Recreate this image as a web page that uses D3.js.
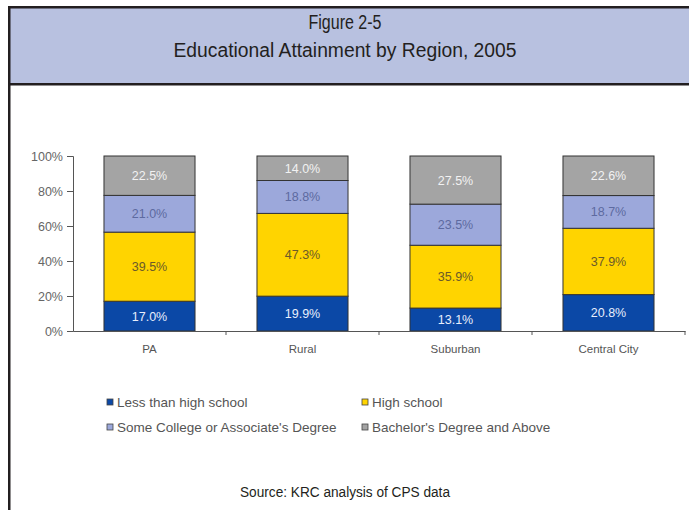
<!DOCTYPE html>
<html>
<head>
<meta charset="utf-8">
<script src="https://cdn.jsdelivr.net/npm/d3@7"></script>
<style>
  body { margin: 0; background: #fff; }
  svg { display: block; }
</style>
</head>
<body>
<div id="chart"></div>
<script>
// educational attainment by region, 2005 (percent)
var regions = ["PA", "Rural", "Suburban", "Central City"];
var seriesNames = ["Less than high school", "High school",
  "Some College or Associate's Degree", "Bachelor's Degree and Above"];
var lessThanHS = [17.0, 19.9, 13.1, 20.8];
var highSchool = [39.5, 47.3, 35.9, 37.9];
var someCollege = [21.0, 18.8, 23.5, 18.7];
var bachelors = [22.5, 14.0, 27.5, 22.6];
var yTicks = [0, 20, 40, 60, 80, 100];

var colors = ["#0b48a6", "#ffd400", "#9ca8db", "#a4a4a4"];
var labelColors = ["#e8eefc", "#6b5a2a", "#5d6aa0", "#f2f2f2"];

var fullWidth = 689, fullHeight = 510;

var svg = d3.select("#chart").append("svg")
  .attr("width", fullWidth)
  .attr("height", fullHeight);

// frame + header band
svg.append("rect").attr("x", 10).attr("y", 8).attr("width", fullWidth - 10).attr("height", 75)
  .attr("fill", "#b8c1e0");
svg.append("rect").attr("x", 8).attr("y", 6).attr("width", fullWidth - 8).attr("height", 2.5).attr("fill", "#231f20");
svg.append("rect").attr("x", 8).attr("y", 83).attr("width", fullWidth - 8).attr("height", 2.5).attr("fill", "#231f20");
svg.append("rect").attr("x", 8).attr("y", 6).attr("width", 2.5).attr("height", fullHeight - 6).attr("fill", "#231f20");

// condensed look: squeeze the glyphs to the widths seen in the picture
var titleFont = "'Liberation Sans', Arial, sans-serif";
function narrowText(txt, cx, cy, size, len) {
  svg.append("text").attr("x", cx - len / 2).attr("y", cy)
    .attr("textLength", len).attr("lengthAdjust", "spacingAndGlyphs")
    .style("font-family", titleFont).style("font-size", size + "px").attr("fill", "#231f20")
    .text(txt);
}
narrowText("Figure 2-5", 345, 29, 20, 73);
narrowText("Educational Attainment by Region, 2005", 345, 57, 20, 343);
narrowText("Source: KRC analysis of CPS data", 345, 497, 15.5, 210);

// scales
var x = d3.scaleBand().domain(regions).range([73, 685])
  .paddingInner(0.405).paddingOuter(0.2025);
var y = d3.scaleLinear().domain([0, 100]).range([331, 156]);

var rows = regions.map(function(r, i) {
  return { region: r, s0: lessThanHS[i], s1: highSchool[i], s2: someCollege[i], s3: bachelors[i] };
});
var stack = d3.stack().keys(["s0", "s1", "s2", "s3"]);
var layers = stack(rows);

var chartFont = "'Liberation Sans', Arial, sans-serif";

var g = svg.append("g");
layers.forEach(function(layer, k) {
  var grp = g.append("g");
  grp.selectAll("rect").data(layer).enter().append("rect")
    .attr("x", function(d) { return x(d.data.region); })
    .attr("y", function(d) { return y(d[1]); })
    .attr("width", x.bandwidth())
    .attr("height", function(d) { return y(d[0]) - y(d[1]); })
    .attr("fill", colors[k])
    .attr("stroke", "#333")
    .attr("stroke-width", 1);
  grp.selectAll("text").data(layer).enter().append("text")
    .attr("x", function(d) { return x(d.data.region) + x.bandwidth() / 2; })
    .attr("y", function(d) { return (y(d[0]) + y(d[1])) / 2 + 4.5; })
    .attr("text-anchor", "middle")
    .style("font-family", chartFont).style("font-size", "12.5px")
    .attr("fill", labelColors[k])
    .text(function(d) { return (d[1] - d[0]).toFixed(1) + "%"; });
});

// y axis
var yAxis = d3.axisLeft(y).tickValues(yTicks).tickSize(6).tickPadding(4)
  .tickFormat(function(d) { return d + "%"; });
var ya = svg.append("g").attr("transform", "translate(73,0)").call(yAxis);
ya.select(".domain").attr("stroke", "#555");
ya.selectAll(".tick line").attr("stroke", "#555");
ya.selectAll("text").style("font-family", chartFont).style("font-size", "12.5px").attr("fill", "#666");

// x axis with boundary ticks
var xAxis = d3.axisBottom(x).tickSize(0).tickPadding(14);
var xa = svg.append("g").attr("transform", "translate(0,331)").call(xAxis);
xa.select(".domain").attr("stroke", "#555");
xa.selectAll("text").style("font-family", chartFont).style("font-size", "11.5px").attr("fill", "#555");
var bounds = regions.map(function(r) { return x(r) - x.step() * x.paddingInner() / 2; }).concat([685]);
xa.selectAll("line.bound").data(bounds.slice(1)).enter().append("line")
  .attr("class", "bound")
  .attr("x1", function(d) { return d; }).attr("x2", function(d) { return d; })
  .attr("y1", 0).attr("y2", 4).attr("stroke", "#555");

// legend
var legendPos = [[107, 407], [362, 407], [107, 432], [362, 432]];
var legend = svg.append("g").selectAll("g").data(seriesNames).enter().append("g")
  .attr("transform", function(d, i) { return "translate(" + legendPos[i][0] + "," + legendPos[i][1] + ")"; });
legend.append("rect").attr("x", 0).attr("y", -8).attr("width", 6).attr("height", 6)
  .attr("fill", function(d, i) { return colors[i]; })
  .attr("stroke", "#444").attr("stroke-width", 0.8);
legend.append("text").attr("x", 10).attr("y", 0)
  .style("font-family", chartFont).style("font-size", "13.5px").attr("fill", "#555")
  .text(function(d) { return d; });
</script>
</body>
</html>
